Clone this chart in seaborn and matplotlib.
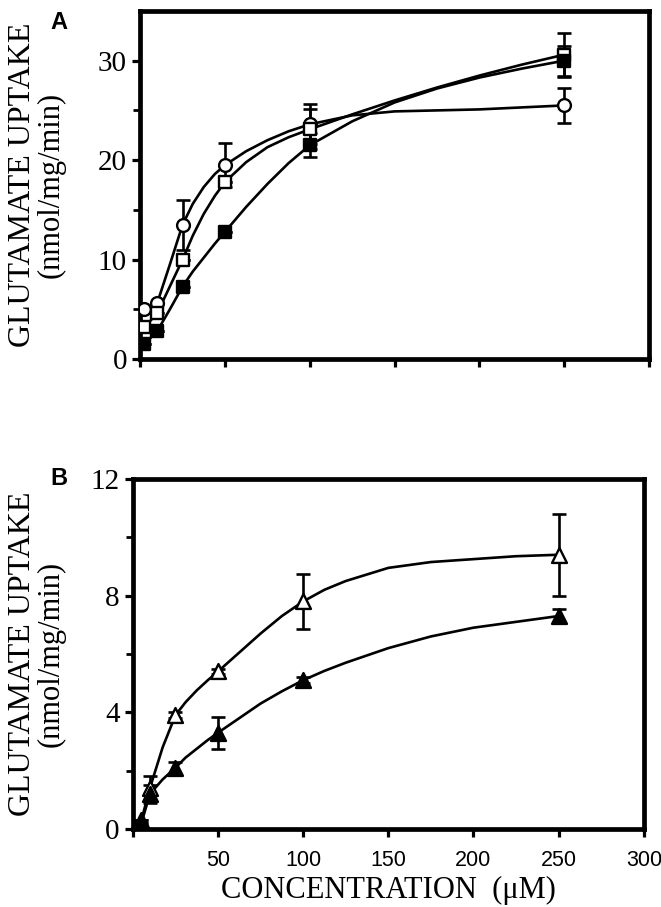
import numpy as np
import pandas as pd
import matplotlib
matplotlib.use('Agg')
from matplotlib import pyplot as plt
import seaborn as sns

# Panel A measured points (uM, nmol/mg/min)
conc_a = [2.5, 10, 25, 50, 100, 250]
open_circle = [5.0, 5.6, 13.5, 19.5, 23.6, 25.5]
open_circle_err = [0, 0, 2.5, 2.2, 2.0, 1.8]
open_square = [3.2, 4.6, 10.0, 17.8, 23.1, 30.6]
open_square_err = [0, 0, 0, 0, 2.0, 2.2]
filled_square = [1.5, 2.8, 7.3, 12.8, 21.5, 30.0]
filled_square_err = [0, 0, 0, 0, 1.2, 1.5]

# Panel A fitted curves
curve_x_a = [2.5, 10, 17.5, 25, 31, 37.5, 44, 50, 62.5, 75, 87.5, 100, 125, 150, 175, 200, 225, 250]
curve_open_circle = [5.0, 5.6, 9.5, 13.5, 15.6, 17.3, 18.6, 19.5, 20.9, 22.0, 22.9, 23.6, 24.5, 24.9, 25.0, 25.1, 25.3, 25.5]
curve_open_square = [3.2, 4.6, 7.3, 10.0, 12.4, 14.6, 16.4, 17.8, 19.8, 21.3, 22.3, 23.1, 24.6, 26.0, 27.3, 28.5, 29.6, 30.6]
curve_filled_square = [1.5, 2.8, 5.0, 7.3, 8.8, 10.2, 11.6, 12.8, 15.3, 17.6, 19.7, 21.5, 23.9, 25.8, 27.2, 28.3, 29.2, 30.0]

# Panel B measured points
conc_b = [5, 10, 25, 50, 100, 250]
open_tri = [0.3, 1.4, 3.9, 5.4, 7.8, 9.4]
open_tri_err = [0, 0.4, 0.1, 0.1, 0.95, 1.4]
filled_tri = [0.2, 1.2, 2.1, 3.3, 5.1, 7.3]
filled_tri_err = [0, 0.3, 0.2, 0.55, 0.1, 0.25]

# Panel B fitted curves
curve_x_b = [5, 10, 17.5, 25, 31, 37.5, 44, 50, 62.5, 75, 87.5, 100, 112.5, 125, 150, 175, 200, 225, 250]
curve_open_tri = [0.3, 1.4, 2.8, 3.9, 4.35, 4.75, 5.1, 5.4, 6.05, 6.7, 7.3, 7.8, 8.2, 8.5, 8.95, 9.15, 9.25, 9.35, 9.4]
curve_filled_tri = [0.2, 1.2, 1.7, 2.1, 2.45, 2.75, 3.05, 3.3, 3.8, 4.3, 4.72, 5.1, 5.42, 5.7, 6.2, 6.6, 6.9, 7.1, 7.3]

x_ticks = [0, 50, 100, 150, 200, 250, 300]
x_ticklabels_b = ['', '50', '100', '150', '200', '250', '300']

sns.set_style('ticks')
plt.rcParams['font.family'] = ['Liberation Serif', 'DejaVu Serif']
plt.rcParams['axes.edgecolor'] = 'black'
plt.rcParams['xtick.color'] = 'black'
plt.rcParams['ytick.color'] = 'black'
plt.rcParams['text.color'] = 'black'
plt.rcParams['axes.labelcolor'] = 'black'

SERIF = 'Liberation Serif'
SANS = 'Liberation Sans'


def draw_series(ax, x, y, err, cx, cy, marker, face, size):
    sns.lineplot(x=cx, y=cy, ax=ax, color='black', lw=1.9, sort=False, zorder=2)
    ax.errorbar(x, y, yerr=err, fmt='none', ecolor='black', elinewidth=1.9,
                capsize=5, capthick=1.9, zorder=3)
    sns.scatterplot(x=x, y=y, ax=ax, marker=marker, s=size, facecolor=face,
                    edgecolor='black', linewidth=1.7, zorder=4)


def style_axes(ax, ymax, major, minor):
    ax.set_xlim(0, 300)
    ax.set_ylim(0, ymax)
    ax.set_xticks(x_ticks)
    ax.set_yticks(major)
    ax.set_yticks(minor, minor=True)
    for s in ax.spines.values():
        s.set_linewidth(3.4)
        s.set_color('black')
        s.set_visible(True)
    ax.tick_params(axis='both', which='major', direction='out', length=6, width=2.3, colors='black')
    ax.tick_params(axis='y', which='minor', direction='out', length=5, width=2.0, colors='black')
    for lab in ax.get_yticklabels():
        lab.set_fontfamily(SERIF)
        lab.set_fontsize(21)


fig = plt.figure(figsize=(6.61, 9.07), dpi=100)

# Panel A
ax_a = fig.add_axes([0.212, 0.604, 0.770, 0.384])
draw_series(ax_a, conc_a, open_circle, open_circle_err, curve_x_a, curve_open_circle, 'o', 'white', 85)
draw_series(ax_a, conc_a, open_square, open_square_err, curve_x_a, curve_open_square, 's', 'white', 80)
draw_series(ax_a, conc_a, filled_square, filled_square_err, curve_x_a, curve_filled_square, 's', 'black', 75)
style_axes(ax_a, 35, [0, 10, 20, 30], [5, 15, 25])
ax_a.set_xticklabels([''] * len(x_ticks))
ax_a.set_xlabel('')
ax_a.set_ylabel('')

# Panel B
ax_b = fig.add_axes([0.201, 0.086, 0.773, 0.386])
draw_series(ax_b, conc_b, open_tri, open_tri_err, curve_x_b, curve_open_tri, '^', 'white', 115)
draw_series(ax_b, conc_b, filled_tri, filled_tri_err, curve_x_b, curve_filled_tri, '^', 'black', 115)
style_axes(ax_b, 12, [0, 4, 8, 12], [2, 6, 10])
ax_b.set_xticklabels(x_ticklabels_b, fontfamily=SANS, fontsize=15.5)
ax_b.tick_params(axis='x', pad=9)
ax_b.set_xlabel('CONCENTRATION  (\u03bcM)', fontfamily=SERIF, fontsize=22, labelpad=4)
ax_b.set_ylabel('')

# y-axis titles (two lines each)
for ax_y in (0.796, 0.279):
    fig.text(0.034, ax_y, 'GLUTAMATE UPTAKE', rotation=90, ha='center', va='center',
             fontfamily=SERIF, fontsize=23)
    fig.text(0.078, ax_y, '(nmol/mg/min)', rotation=90, ha='center', va='center',
             fontfamily=SERIF, fontsize=22)

fig.text(0.076, 0.975, 'A', fontfamily=SANS, fontweight='bold', fontsize=17, ha='left', va='center')
fig.text(0.076, 0.472, 'B', fontfamily=SANS, fontweight='bold', fontsize=17, ha='left', va='center')

fig.savefig('out.png', dpi=100)
